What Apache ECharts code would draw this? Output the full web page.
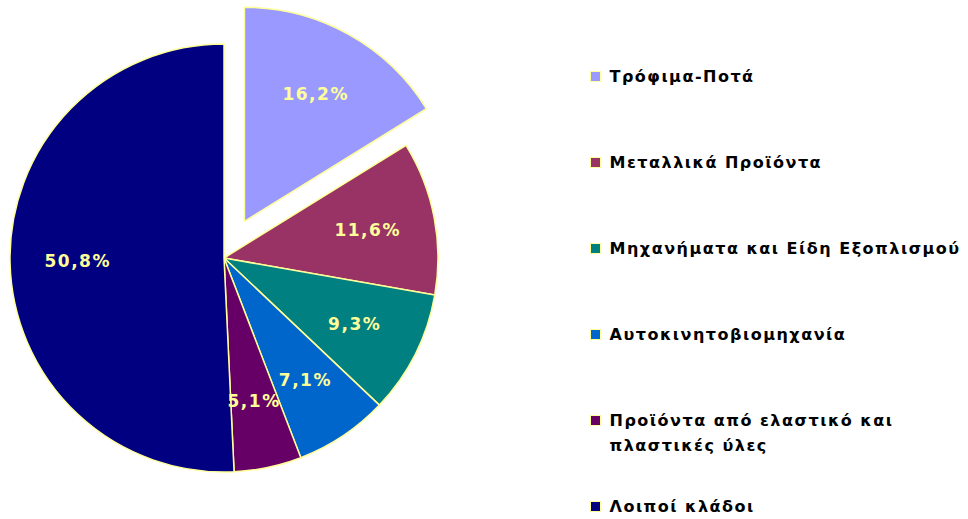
<!DOCTYPE html>
<html>
<head>
<meta charset="utf-8">
<script src="https://cdn.jsdelivr.net/npm/echarts@6/dist/echarts.min.js"></script>
<style>
  html, body { margin: 0; padding: 0; background: #fff; }
  #myChart { width: 968px; height: 519px; }
  /* the original text is drawn a bit widely spaced */
  #myChart svg text { letter-spacing: 1.5px; }
</style>
</head>
<body>
<div id="myChart"></div>
<script>
  // κλάδοι και μερίδια (%)
  var categories = [
    'Τρόφιμα-Ποτά',
    'Μεταλλικά Προϊόντα',
    'Μηχανήματα και Είδη Εξοπλισμού',
    'Αυτοκινητοβιομηχανία',
    'Προϊόντα από ελαστικό και πλαστικές ύλες',
    'Λοιποί κλάδοι'
  ];
  var values = [16.2, 11.6, 9.3, 7.1, 5.1, 50.8];
  var colors = ['#9999FF', '#993366', '#008080', '#0066CC', '#660066', '#000080'];

  var pieCenter = [224, 258];
  var pieRadius = 214;
  var lineH = 25;

  var myChart = echarts.init(document.getElementById('myChart'), null, { renderer: 'svg' });

  var pieData = categories.map(function (name, i) {
    return {
      name: name,
      value: values[i],
      selected: i === 0,
      itemStyle: { color: colors[i] }
    };
  });

  // legend text lines (the 5th label wraps onto two lines)
  function legendLines(name) {
    if (name === categories[4]) {
      // leading empty line keeps the first line level with the icon
      return ['', 'Προϊόντα από ελαστικό και', 'πλαστικές ύλες'];
    }
    return [name];
  }

  // one legend per item so the spacing stays even
  var legends = categories.map(function (name, i) {
    var lines = legendLines(name);
    var iconY = 76.5 + i * 86;
    return {
      orient: 'vertical',
      left: 585,
      top: iconY - 5 - lines.length * lineH / 2,
      icon: 'rect',
      itemWidth: 10,
      itemHeight: 10,
      itemGap: 0,
      selectedMode: false,
      data: [name],
      itemStyle: { borderColor: '#FFFF99', borderWidth: 1 },
      formatter: function (n) {
        return legendLines(n).map(function (s) {
          return s ? '{t|' + s + '}' : '';
        }).join('\n');
      },
      textStyle: {
        fontFamily: 'DejaVu Sans',
        fontSize: 16,
        color: '#000',
        lineHeight: lineH,
        rich: {
          t: {
            fontFamily: 'DejaVu Sans',
            fontSize: 16,
            fontWeight: 'bold',
            color: '#000',
            lineHeight: lineH,
            padding: [0, 0, 0, 4]
          }
        }
      }
    };
  });

  myChart.setOption({
    animation: false,
    color: colors,
    legend: legends,
    series: [
      {
        name: 'Κλάδοι',
        type: 'pie',
        center: pieCenter,
        radius: pieRadius,
        startAngle: 90,
        clockwise: true,
        selectedMode: 'single',
        selectedOffset: 42,
        avoidLabelOverlap: false,
        itemStyle: { borderColor: '#FFFF99', borderWidth: 1.5 },
        emphasis: { disabled: true },
        label: {
          show: true,
          position: 'inside',
          color: '#FFFF99',
          fontFamily: 'DejaVu Sans',
          fontWeight: 'bold',
          fontSize: 17,
          formatter: function (p) {
            return p.value.toFixed(1).replace('.', ',') + '%';
          }
        },
        // push labels further out from the centre, like the original
        labelLayout: function (params) {
          var r = params.labelRect;
          var lx = r.x + r.width / 2 - pieCenter[0];
          var ly = r.y + r.height / 2 - pieCenter[1];
          var k = 0.33;
          return { dx: lx * k, dy: ly * k };
        },
        data: pieData
      }
    ]
  });
</script>
</body>
</html>
